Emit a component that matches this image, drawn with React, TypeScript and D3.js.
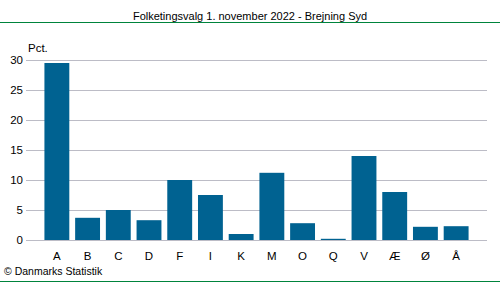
import React from "react";
import * as d3 from "d3";

const categories = ["A", "B", "C", "D", "F", "I", "K", "M", "O", "Q", "V", "Æ", "Ø", "Å"];
const values = [29.5, 3.7, 5.0, 3.3, 10.0, 7.5, 1.0, 11.2, 2.8, 0.2, 14.0, 8.0, 2.2, 2.3];
const yTicks = [0, 5, 10, 15, 20, 25, 30];
const title = "Folketingsvalg 1. november 2022 - Brejning Syd";
const unit = "Pct.";
const credit = "© Danmarks Statistik";

export default function App() {
  const W = 500, H = 282;
  const left = 26, right = 487, top = 60, bottom = 240;
  const x = d3.scaleBand<string>().domain(categories).range([left, right]).paddingInner(0.19).paddingOuter(0.6);
  const y = d3.scaleLinear().domain([0, 30]).range([bottom, top]);
  const font = "'Liberation Sans', Arial, sans-serif";
  return (
    <svg width={W} height={H} style={{ position: "absolute", left: 0, top: 0, background: "#fff" }} fontFamily={font}>
      <text x={250} y={20} fontSize={11} textAnchor="middle" fill="#000">{title}</text>
      <line x1={0} x2={W} y1={22.5} y2={22.5} stroke="#00843c" strokeWidth={1} />
      {yTicks.map(t => (
        <g key={t}>
          <line x1={left} x2={right} y1={y(t) + 0.5} y2={y(t) + 0.5} stroke="#bcbcc6" strokeWidth={1} />
          <text x={23} y={y(t) + 4} fontSize={11.5} textAnchor="end" fill="#000">{t}</text>
        </g>
      ))}
      <text x={28} y={52} fontSize={11.5} fill="#000">{unit}</text>
      {categories.map((c, i) => (
        <rect key={c} x={x(c)} y={y(values[i])} width={x.bandwidth()} height={y(0) - y(values[i])} fill="#006291" />
      ))}
      {categories.map(c => (
        <text key={c} x={(x(c) as number) + x.bandwidth() / 2} y={260} fontSize={11.5} textAnchor="middle" fill="#000">{c}</text>
      ))}
      <text x={4} y={275} fontSize={10.5} fill="#000">{credit}</text>
      <line x1={0} x2={W} y1={281.5} y2={281.5} stroke="#00843c" strokeWidth={1} />
    </svg>
  );
}
